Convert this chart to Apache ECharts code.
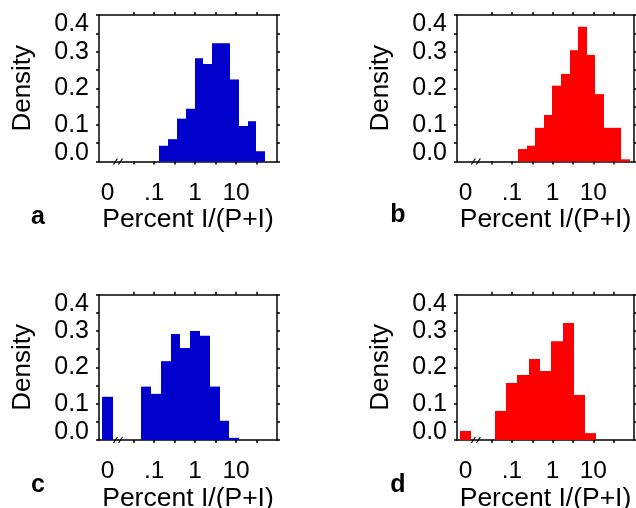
<!DOCTYPE html>
<html>
<head>
<meta charset="utf-8">
<script src="https://cdn.jsdelivr.net/npm/echarts@6/dist/echarts.min.js"></script>
<style>
  html, body { margin: 0; padding: 0; background: #fff; }
  #chart { width: 636px; height: 508px; }
</style>
</head>
<body>
<div id="chart"></div>
<script>
// x is log10(percent); the "0" bin sits left of the axis break
const xTickValues = [-1.5, -1, -0.5, 0, 0.5, 1, 1.5];
const xLabelValues = [-2.14, -1, 0, 1];
const xLabelText = ['0', '.1', '1', '10'];
const breakAt = -1.85;
const zeroBin = [-2.27, -2.0];

const aEdges = [-0.88, -0.664, -0.447, -0.231, -0.015, 0.202, 0.418, 0.634, 0.85, 1.067, 1.283, 1.499, 1.716];
const aDensity = [0.043, 0.061, 0.117, 0.144, 0.282, 0.266, 0.323, 0.323, 0.224, 0.097, 0.110, 0.028];

const bEdges = [-0.849, -0.638, -0.427, -0.216, -0.005, 0.206, 0.417, 0.628, 0.839, 1.05, 1.26, 1.47, 1.68, 1.89];
const bDensity = [0.034, 0.043, 0.092, 0.127, 0.207, 0.239, 0.304, 0.368, 0.291, 0.184, 0.092, 0.092, 0.006];

const cEdges = [-1.322, -1.082, -0.842, -0.602, -0.362, -0.122, 0.118, 0.358, 0.598, 0.838, 1.078];
const cDensity = [0.147, 0.127, 0.217, 0.292, 0.253, 0.300, 0.287, 0.147, 0.053, 0.006];
const cZero = 0.119;

const dEdges = [-1.42, -1.142, -0.865, -0.587, -0.31, -0.032, 0.245, 0.522, 0.8, 1.077];
const dDensity = [0.080, 0.157, 0.179, 0.223, 0.190, 0.272, 0.322, 0.124, 0.019];
const dZero = 0.025;

const FONT = '"Liberation Sans", Arial, sans-serif';
const BLUE = '#0000cc';
const RED = '#ff0000';
const line = { color: '#000', width: 1.5 };

const panels = [
  { edges: aEdges, density: aDensity, zero: null, color: BLUE, grid: { left: 99, top: 15, width: 178, height: 146.5 }, letter: 'a', lx: 38, ly: 217 },
  { edges: bEdges, density: bDensity, zero: null, color: RED, grid: { left: 457, top: 15, width: 177, height: 146.5 }, letter: 'b', lx: 398, ly: 215 },
  { edges: cEdges, density: cDensity, zero: cZero, color: BLUE, grid: { left: 99, top: 294.7, width: 178, height: 145.3 }, letter: 'c', lx: 38, ly: 485 },
  { edges: dEdges, density: dDensity, zero: dZero, color: RED, grid: { left: 457, top: 294.7, width: 177, height: 145.3 }, letter: 'd', lx: 398, ly: 485 },
];

function renderBar(params, api) {
  const top = api.coord([api.value(0), api.value(2)]);
  const base = api.coord([api.value(1), 0]);
  // snap to whole pixels so neighbouring bars meet without a light seam
  const x0 = Math.round(top[0]), x1 = Math.round(base[0]);
  return {
    type: 'rect',
    shape: { x: x0, y: top[1], width: x1 - x0, height: base[1] - top[1] },
    style: { fill: api.visual('color') },
  };
}

function renderBreak(params, api) {
  const p = api.coord([api.value(0), 0]);
  const st = { stroke: '#000', lineWidth: 1.2 };
  return {
    type: 'group',
    children: [
      { type: 'line', shape: { x1: p[0] - 6, y1: p[1] + 3, x2: p[0] - 2, y2: p[1] - 3 }, style: st },
      { type: 'line', shape: { x1: p[0] - 1, y1: p[1] + 3, x2: p[0] + 3, y2: p[1] - 3 }, style: st },
    ],
  };
}

const xLabelFmt = (v) => {
  const i = xLabelValues.findIndex(x => Math.abs(x - v) < 1e-6);
  return i >= 0 ? xLabelText[i] : '';
};
const yLabelFmt = (v) => {
  if (v < 1e-9) return '{lo|0.0}';
  if (v > 0.4 - 1e-9) return '{hi|0.4}';
  return v.toFixed(1);
};

const grid = [], xAxis = [], yAxis = [], series = [], graphic = [];

panels.forEach((p, k) => {
  grid.push(Object.assign({ outerBoundsMode: 'none', containLabel: false }, p.grid));

  const xBase = {
    gridIndex: k, type: 'value', min: -2.35, max: 2,
    axisLine: { show: true, onZero: false, lineStyle: line },
    axisTick: { show: true, customValues: xTickValues, length: 3, lineStyle: line },
    splitLine: { show: false },
  };
  xAxis.push(Object.assign({}, xBase, {
    position: 'bottom',
    axisLabel: { customValues: xLabelValues, formatter: xLabelFmt, fontSize: 24.5, fontFamily: FONT, color: '#000', margin: 19 },
    name: 'Percent I/(P+I)', nameLocation: 'middle', nameGap: 45,
    nameTextStyle: { fontSize: 26.5, fontFamily: FONT, color: '#000' },
  }));
  xAxis.push(Object.assign({}, xBase, { position: 'top', axisLabel: { show: false } }));

  const yBase = {
    gridIndex: k, type: 'value', min: 0, max: 0.4, interval: 0.1,
    axisLine: { show: true, onZero: false, lineStyle: line },
    axisTick: { show: true, length: 3, lineStyle: line },
    minorTick: { show: true, splitNumber: 2, length: 3, lineStyle: line },
    splitLine: { show: false },
    minorSplitLine: { show: false },
  };
  yAxis.push(Object.assign({}, yBase, {
    position: 'left',
    axisLabel: {
      formatter: yLabelFmt, fontSize: 25, fontFamily: FONT, color: '#000', margin: 10,
      showMinLabel: true, showMaxLabel: true,
      rich: {
        lo: { fontSize: 25, fontFamily: FONT, color: '#000', padding: [0, 0, 16, 0] },
        hi: { fontSize: 25, fontFamily: FONT, color: '#000', padding: [18, 0, 0, 0] },
      },
    },
    name: 'Density', nameLocation: 'middle', nameGap: 63,
    nameTextStyle: { fontSize: 26, fontFamily: FONT, color: '#000' },
  }));
  yAxis.push(Object.assign({}, yBase, { position: 'right', axisLabel: { show: false } }));

  const bins = p.density.map((d, i) => [p.edges[i], p.edges[i + 1], d]);
  if (p.zero !== null) bins.unshift([zeroBin[0], zeroBin[1], p.zero]);
  series.push({
    type: 'custom', xAxisIndex: 2 * k, yAxisIndex: 2 * k,
    renderItem: renderBar, itemStyle: { color: p.color },
    encode: { x: [0, 1], y: 2 }, data: bins, silent: true,
  });
  series.push({
    type: 'custom', xAxisIndex: 2 * k, yAxisIndex: 2 * k,
    renderItem: renderBreak, clip: false, z: 10,
    encode: { x: 0, y: 1 }, data: [[breakAt, 0]], silent: true,
  });

  graphic.push({
    type: 'text', x: p.lx, y: p.ly,
    style: { text: p.letter, font: 'bold 25px ' + FONT, fill: '#000', textAlign: 'center', textVerticalAlign: 'middle' },
  });
});

const chart = echarts.init(document.getElementById('chart'));
chart.setOption({ animation: false, grid, xAxis, yAxis, series, graphic });
window.addEventListener('resize', () => chart.resize());
</script>
</body>
</html>
